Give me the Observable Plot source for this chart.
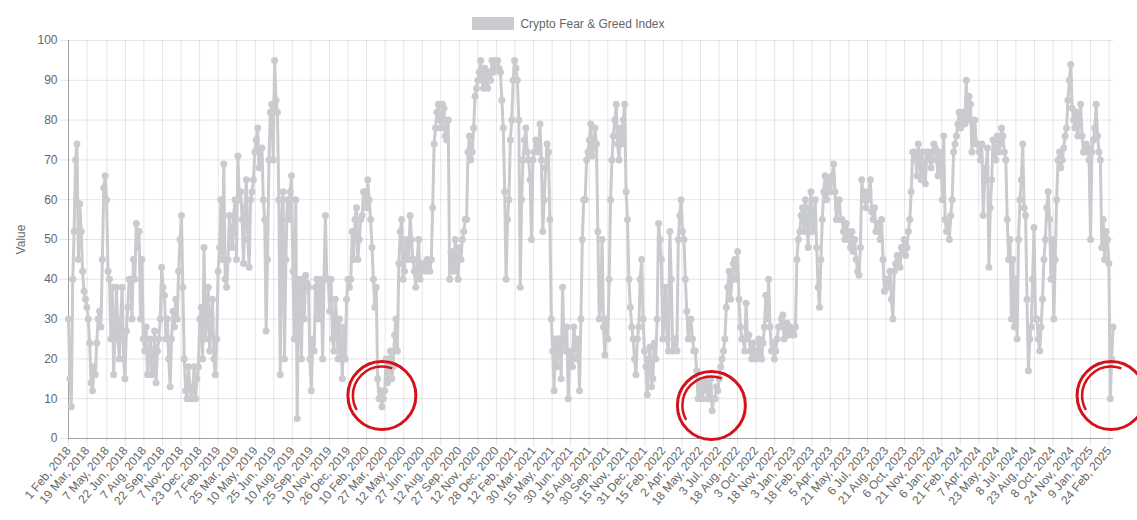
<!DOCTYPE html>
<html>
<head>
<meta charset="utf-8">
<script src="https://cdn.jsdelivr.net/npm/d3@7"></script>
<script src="https://cdn.jsdelivr.net/npm/@observablehq/plot@0.6"></script>
<style>
  html, body { margin: 0; padding: 0; background: #fff; }
  body { font-family: "Liberation Sans", Arial, Helvetica, sans-serif; }
  #legend { height: 30px; box-sizing: border-box; padding-top: 17px; display: flex; justify-content: center; align-items: flex-start; font-size: 12px; color: #666; }
  #legend .box { display: inline-block; width: 42px; height: 13px; background: rgb(201,203,207); margin-right: 6px; }
  #legend .lab { line-height: 14px; }
  #chart svg { display: block; }
</style>
</head>
<body>
<div id="legend"><span class="box"></span><span class="lab" id="legendText"></span></div>
<div id="chart"></div>
<script>
// ---- data: readings each week (Thursday, from startDate) and half a week later ----
const seriesName = "Crypto Fear & Greed Index";
const yLabel = "Value";
const startDate = "2018-02-01";
const endDate = "2025-03-07";

const fng2018 = [30, 8, 52, 74,  59, 42, 35, 30, 14,  18, 24, 32, 45,  66, 42, 25, 16, 38,  20, 38, 15, 33,
                 40, 45, 54, 52,  45, 22, 16, 25, 18,  14, 25, 43, 36,  30, 13, 32, 35,  42, 56, 20, 10, 13,  12, 10, 18, 33];
const mid2018 = [15, 40, 70, 45,  52, 37, 33, 24, 12,  16, 30, 28, 63,  60, 40, 38, 27, 25,  30, 20, 27, 40,
                 30, 40, 48, 30,  25, 28, 20, 16, 27,  22, 30, 38, 25,  20, 25, 28, 30,  50, 38, 12, 18, 10,  18, 15, 30, 20];
const fng2019 = [48, 30, 22, 35, 16,  42, 60, 69, 38,  56, 48, 60, 71,  62, 44, 65, 43,  62, 72, 78, 70, 60,  27, 70, 84, 95,
                 82, 16, 62, 45,  55, 66, 25, 5, 38,  40, 41, 38, 12,  22, 40, 38, 20, 56,  40, 40, 22, 30,  30, 15, 20, 40];
const mid2019 = [25, 38, 30, 20, 25,  48, 45, 40, 45,  52, 56, 45, 60,  55, 58, 50, 60,  65, 75, 68, 73, 55,  45, 82, 70, 85,
                 60, 55, 20, 60,  62, 42, 60, 40, 20,  30, 39, 20, 25,  38, 30, 40, 40, 40,  32, 25, 35, 20,  24, 28, 35, 38];
const fng2020 = [40, 45, 58, 50, 56,  62, 65, 55, 40,  38, 10, 8, 12,  14, 22, 18, 30, 44,  55, 42, 48, 56,  45, 38, 50, 42,
                 43, 45, 42, 58, 78,  84, 78, 83, 75,  40, 45, 50, 40,  45, 52, 55, 76, 72,  86, 90, 95, 88,  90, 92, 95, 93, 95];
const mid2020 = [52, 55, 45, 55, 62,  58, 60, 48, 33,  15, 12, 10, 20,  18, 15, 26, 22, 52,  40, 50, 45, 50,  42, 45, 40, 44,
                 42, 44, 45, 74, 82,  80, 84, 76, 80,  47, 42, 44, 48,  50, 55, 72, 70, 78,  88, 92, 90, 93,  88, 90, 92, 95, 93];
const fng2021 = [92, 78, 40, 60,  80, 95, 90, 38,  70, 78, 70, 50,  72, 74, 79, 52, 68,  72, 30, 12, 18,  25, 38, 22, 10,
                 22, 28, 20, 12, 50,  60, 72, 79, 73,  74, 30, 50, 21, 25,  60, 76, 84, 70,  74, 84, 55, 33,  25, 16, 28, 45, 22];
const mid2021 = [85, 62, 55, 75,  90, 93, 80, 60,  75, 72, 65, 70,  75, 72, 70, 60, 74,  55, 22, 25, 25,  15, 25, 28, 20,
                 18, 24, 25, 30, 60,  70, 75, 71, 78,  52, 35, 28, 30, 40,  70, 80, 74, 78,  80, 62, 40, 28,  20, 25, 40, 30, 18];
const fng2022 = [11, 23, 15, 20,  54, 45, 30, 25,  52, 22, 25, 50, 60,  50, 32, 28, 25,  22, 10, 14, 12,  15, 12, 7, 10, 12,
                 18, 22, 33, 42,  40, 45, 47, 28,  25, 34, 26, 20, 22,  22, 21, 24, 36,  40, 22, 20, 25,  28, 31, 27, 26, 27];
const mid2022 = [20, 13, 24, 30,  50, 25, 38, 22,  40, 25, 22, 56, 52,  40, 25, 30, 22,  17, 12, 10, 14,  10, 15, 10, 13, 15,
                 20, 25, 38, 35,  44, 40, 35, 25,  22, 25, 22, 24, 20,  25, 20, 28, 30,  28, 24, 22, 28,  30, 25, 29, 28, 26];
const fng2023 = [26, 45, 52, 58,  60, 48, 62, 55,  48, 33, 55, 66, 62,  62, 69, 55, 60,  55, 50, 52, 48,  47, 45, 41, 65, 62,
                 60, 65, 55, 52,  53, 55, 37, 40, 42,  30, 44, 45, 48,  50, 48, 55, 72,  72, 74, 65, 68, 72,  72, 70, 73, 66];
const mid2023 = [28, 50, 56, 52,  55, 58, 52, 60,  38, 45, 62, 60, 65,  66, 62, 58, 55,  52, 54, 50, 52,  50, 42, 48, 60, 58,
                 62, 57, 58, 54,  50, 45, 40, 38, 35,  42, 46, 43, 47,  46, 52, 62, 70,  66, 70, 72, 64, 70,  68, 74, 70, 72];
const fng2024 = [70, 76, 52, 50,  60, 74, 79, 78, 82,  90, 86, 72, 80,  74, 70, 56, 68,  43, 65, 72, 76, 74,  76, 70, 45, 30,
                 28, 25, 60, 74,  56, 17, 28, 53, 30,  22, 35, 50, 62,  40, 30, 60, 72, 70,  76, 85, 94, 80,  82, 80, 76, 72];
const mid2024 = [60, 55, 54, 56,  72, 76, 82, 80, 79,  80, 84, 78, 74,  72, 74, 65, 73,  58, 75, 70, 72, 78,  72, 55, 50, 45,
                 40, 50, 65, 58,  35, 25, 40, 30, 25,  28, 45, 58, 55,  50, 45, 70, 68, 73,  78, 90, 83, 78,  76, 84, 72, 74];
const fng2025 = [73, 50, 75, 84, 72,  48, 45, 50, 10,  28];
const mid2025 = [70, 72, 78, 76, 70,  55, 52, 44, 20];

const yTicks = [0, 10, 20, 30, 40, 50, 60, 70, 80, 90, 100];
const tickLabels = [
  "1 Feb, 2018","19 Mar, 2018","7 May, 2018","22 Jun, 2018","7 Aug, 2018","22 Sep, 2018","7 Nov, 2018","23 Dec, 2018",
  "7 Feb, 2019","25 Mar, 2019","10 May, 2019","25 Jun, 2019","10 Aug, 2019","25 Sep, 2019","10 Nov, 2019","26 Dec, 2019",
  "10 Feb, 2020","27 Mar, 2020","12 May, 2020","27 Jun, 2020","12 Aug, 2020","27 Sep, 2020","12 Nov, 2020","28 Dec, 2020",
  "12 Feb, 2021","30 Mar, 2021","15 May, 2021","30 Jun, 2021","15 Aug, 2021","30 Sep, 2021","15 Nov, 2021","31 Dec, 2021",
  "15 Feb, 2022","2 Apr, 2022","18 May, 2022","3 Jul, 2022","18 Aug, 2022","3 Oct, 2022","18 Nov, 2022",
  "3 Jan, 2023","18 Feb, 2023","5 Apr, 2023","21 May, 2023","6 Jul, 2023","21 Aug, 2023","6 Oct, 2023","21 Nov, 2023",
  "6 Jan, 2024","21 Feb, 2024","7 Apr, 2024","23 May, 2024","8 Jul, 2024","23 Aug, 2024","8 Oct, 2024","24 Nov, 2024",
  "9 Jan, 2025","24 Feb, 2025"
];

// hand-drawn red highlight circles (centre date / value)
const circleDates = ["2020-03-19", "2022-06-14", "2025-03-01"];
const circleValues = [10.8, 8.3, 10.8];

// ---- build ----
const grey = "rgb(201,203,207)";
const red = "#d3121b";
document.getElementById("legendText").textContent = seriesName;

const parseISO = d3.utcParse("%Y-%m-%d");
const parseTick = d3.utcParse("%d %b, %Y");
const start = parseISO(startDate);
const end = parseISO(endDate);
const tickDates = tickLabels.map(parseTick);
const labelByTime = new Map(tickDates.map((d, i) => [+d, tickLabels[i]]));

const weekly = [fng2018, fng2019, fng2020, fng2021, fng2022, fng2023, fng2024, fng2025].flat();
const midweek = [mid2018, mid2019, mid2020, mid2021, mid2022, mid2023, mid2024, mid2025].flat();
const data = [];
weekly.forEach((v, i) => {
  data.push({date: d3.utcHour.offset(start, 168 * i), value: v});
  if (i < midweek.length) data.push({date: d3.utcHour.offset(start, 168 * i + 84), value: midweek[i]});
});
const circles = circleDates.map((d, i) => ({date: parseISO(d), value: circleValues[i]}));

const chart = Plot.plot({
  width: 1137,
  height: 490,
  marginLeft: 68,
  marginRight: 24,
  marginTop: 10,
  marginBottom: 82,
  style: {fontFamily: "'Liberation Sans', Arial, Helvetica, sans-serif", fontSize: "12px", color: "#666", background: "#fff", overflow: "visible"},
  x: {type: "utc", domain: [start, end]},
  y: {domain: [0, 100]},
  marks: [
    Plot.gridY({ticks: yTicks, stroke: "#000", strokeOpacity: 0.1}),
    Plot.gridX({ticks: tickDates, stroke: "#000", strokeOpacity: 0.1}),
    Plot.axisY({ticks: yTicks, tickSize: 8, tickPadding: 3, stroke: "#000", strokeOpacity: 0.1, fill: "#666",
                label: yLabel, labelAnchor: "center", labelArrow: "none", labelOffset: 52}),
    Plot.axisX({ticks: tickDates, tickFormat: d => labelByTime.get(+d), tickRotate: -50, tickSize: 8, tickPadding: 2,
                stroke: "#000", strokeOpacity: 0.1, fill: "#666", label: null}),
    Plot.ruleX([start], {stroke: "#000", strokeOpacity: 0.3}),
    Plot.ruleY([0], {stroke: "#000", strokeOpacity: 0.3}),
    Plot.line(data, {x: "date", y: "value", stroke: grey, strokeWidth: 3, strokeLinejoin: "round"}),
    Plot.dot(data, {x: "date", y: "value", r: 3.5, fill: grey}),
    Plot.dot(circles, {x: "date", y: "value", r: 34, stroke: red, strokeWidth: 3, fill: "none"}),
    Plot.dot(circles, {x: "date", y: "value", r: 29, stroke: red, strokeWidth: 2.5, fill: "none", strokeDasharray: "0 76 71 200"})
  ]
});
document.getElementById("chart").appendChild(chart);
</script>
</body>
</html>
